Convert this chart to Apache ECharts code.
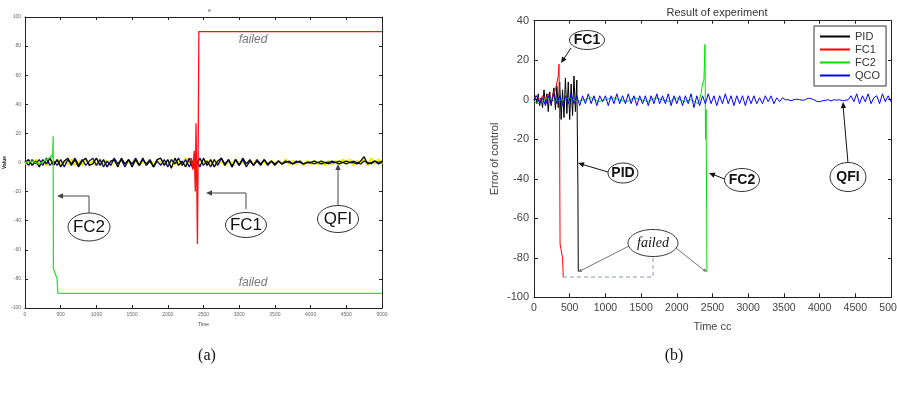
<!DOCTYPE html>
<html lang="en">
<head>
  <meta charset="UTF-8">
  <script src="https://cdn.jsdelivr.net/npm/echarts@6/dist/echarts.min.js"></script>
  <style>
    html, body { margin: 0; padding: 0; background: #fff; }
  </style>
</head>
<body>
  <div id="experimentChart" style="width: 897px; height: 397px;"></div>

  <script type="text/javascript">

    // ---- panel (a): noise traces sampled every 50 time units ----
    var stepA = 50;
    var blackA = [0, 2, -2, 1, -3, 2, -1, 3, -2, 2,
      -3, 1, 3, -2, 2, -3, 1, 3, -2, -1,
      3, -2, 2, -3, 1, 2, -3, 3, -1, 2,
      -3, 2, -2, 3, -2, 1, -3, 2, 3, -2,
      2, -4, 3, -2, 1, -3, 3, -4, 2, -3,
      3, -2, 2, -3, 1, 3, -2, 2, -3, 2,
      -2, 3, -1, 2, -2, 1, -2, 2, -1, 1,
      -2, 1, -1, 1, 0, -1, 1, 0, -1, 0,
      0, 1, 0, -1, 0, 0, 1, 0, -1, 0,
      1, 0, 0, -1, 1, 4, -1, 0, 1, -1, 0];
    var blueA = [1, -2, 2, -1, 2, -2, 3, -2, 1, -2,
      2, -3, 2, -1, 3, -2, 2, -2, 1, 3,
      -2, 2, -3, 1, -2, 3, -1, 2, -3, 2,
      -1, 3, -2, 2, -1, 2, -3, 1, -2, 2,
      -3, 2, -1, 3, -2, 2, -3, 1, -2, 3,
      -2, 1, -3, 2, -2, 3, -1, 2, -3, 2,
      -2, 2, -3, 1, -2, 2, -1, 2, -2, 1,
      -1, 1, -1, 0, 1, -1, 0, 1, -1, 0,
      0, -1, 0, 1, 0, -1, 0, 0, 1, 0,
      -1, 0, 1, 0, -1, 1, 0, -1, 1, 0, 1];
    var yellowA = [-1, 1, -2, 2, -1, 1, -2, 2, -1, 2,
      -2, 1, -1, 2, -2, 1, -2, 2, -1, 1,
      -2, 2, -1, 1, -2, 1, -1, 2, -2, 1,
      -1, 2, -2, 1, -1, 2, -2, 1, -1, 1,
      -2, 2, -1, 1, -2, 3, -2, 1, -1, 2,
      -1, 1, -2, 2, -1, 1, -2, 1, -1, 2,
      -1, 1, -2, 1, -1, 2, -1, 1, -2, 1,
      -1, 1, -1, 2, -1, 1, -1, 1, -2, 1,
      -1, 1, -1, 1, -2, 1, -1, 1, -1, 2,
      -1, 2, -2, 1, -1, 2, -2, 3, -1, 2, -1];
    var fc1TimeA = [2300, 2330, 2350, 2370, 2385, 2395, 2405, 2415, 2425, 2435, 5000];
    var fc1ValA = [0, 3, -5, 8, -20, 27, -10, -56, 5, 90, 90];
    var fc2TimeA = [0, 100, 200, 300, 340, 360, 375, 385, 395, 398, 450, 460, 5000];
    var fc2ValA = [0, 1, -1, 2, 3, 2, 5, 3, 18, -73, -80, -90, -90];
    var yTicksA = ['-100', '-80', '-60', '-40', '-20', '0', '20', '40', '60', '80', '100'];

    // ---- panel (b) ----
    var pidTime = [0, 20, 40, 60, 80, 100, 120, 140, 160, 180, 200, 220, 240, 260, 280, 300,
      320, 340, 360, 380, 400, 420, 440, 460, 480, 500, 520, 540, 560, 580, 600, 615, 620];
    var pidVal = [0, 2, -2, 3, -3, 1, -4, 5, -2, 3, -6, 4, -3, 2, 6, -5,
      7, -4, 9, -10, 5, -9, 11, -7, 9, -10, 8, -8, 12, -6, 10, -45, -87];
    var fc1Time = [0, 40, 80, 120, 160, 200, 240, 270, 300, 320, 340, 350, 358, 365, 400, 410];
    var fc1Val = [1, 2, -1, 2, 0, 3, -2, 3, 5, 4, 12, 18, -10, -73, -80, -90];
    var fc2Time = [0, 60, 120, 200, 300, 400, 500, 600, 700, 800, 900, 1000, 1100, 1200, 1300,
      1400, 1500, 1600, 1700, 1800, 1900, 2000, 2100, 2200, 2300,
      2340, 2360, 2380, 2395, 2402, 2410, 2418, 2422];
    var fc2Val = [-1, -2, 0, 1, -1, 0, 1, -1, 0, 1, -1, 0, 1, 0, -1,
      1, 0, -1, 1, 0, -1, 1, -1, 0, -2,
      3, 8, 10, 28, -20, -5, -55, -87];
    // QCO sampled every 40 time units
    var stepQco = 40;
    var qcoVal = [0, 2, -2, 1, -3, 2, -2, 3, -2, 2,
      -3, 2, -2, 3, -2, 2, -3, 2, -2, 3,
      -2, 2, -3, 2, -1, 2, -3, 2, -2, 3,
      -2, 2, -2, 3, -2, 2, -3, 2, -2, 2,
      -3, 2, -2, 3, -2, 2, -2, 3, -3, 2,
      -2, 2, -3, 2, -2, 3, -4, 2, -3, 2,
      -2, 3, -2, 2, -3, 2, -2, 3, -2, 2,
      -3, 2, -2, 2, -3, 2, -2, 2, -2, 1,
      -2, 2, -1, 2, -2, 1, -1, 1,
      0, 0, -0.5, 0, 0.3, 0, -0.3, 0, 0.8, 0.5, 0, -0.8,
      -1, -0.5, -0.3, 0, -0.6, 0, -0.2, 0, -0.5, -0.3, 0,
      2, -1, 3, -2, 2, -1, 3, -2, 1, 2, -2, 3, -1, 2, -1];
    var legendNames = ['PID', 'FC1', 'FC2', 'QCO'];

    function pairs(times, vals) {
      return vals.map((v, i) => [times[i], v]);
    }
    function stepped(step, vals) {
      return vals.map((v, i) => [i * step, v]);
    }

    var chart = echarts.init(document.getElementById('experimentChart'));

    function axisPair(grid, pos, min, max, interval, labels) {
      return {
        type: 'value', gridIndex: grid, position: pos, min: min, max: max, interval: interval,
        axisLine: { onZero: false, lineStyle: { color: '#222', width: 1 } },
        axisTick: { inside: true, length: 3, lineStyle: { color: '#222' } },
        splitLine: { show: false },
        axisLabel: labels || { show: false }
      };
    }

    var plain = v => String(v);
    var smallLabel = { fontSize: 5, color: '#666', fontFamily: 'Liberation Sans', margin: 4, formatter: plain };
    var mainLabel = { fontSize: 11, color: '#444', fontFamily: 'Liberation Sans', margin: 5, formatter: plain };

    var xA = axisPair(0, 'bottom', 0, 5000, 500, smallLabel);
    xA.name = 'Time'; xA.nameLocation = 'middle'; xA.nameGap = 14;
    xA.nameTextStyle = { fontSize: 5, color: '#444' };
    var yA = axisPair(0, 'left', -100, 100, 20, Object.assign({}, smallLabel, {
      formatter: v => yTicksA[(v + 100) / 20]
    }));
    yA.name = 'Value'; yA.nameLocation = 'middle'; yA.nameGap = 12;
    yA.nameTextStyle = { fontSize: 5, color: '#222', fontWeight: 'bold' };

    var xB = axisPair(1, 'bottom', 0, 5000, 500, Object.assign({}, mainLabel, { fontSize: 10.5 }));
    xB.name = 'Time cc'; xB.nameLocation = 'middle'; xB.nameGap = 24;
    xB.nameTextStyle = { fontSize: 11, color: '#444', fontFamily: 'Liberation Sans' };
    xB.axisTick.length = 4;
    var yB = axisPair(1, 'left', -100, 40, 20, mainLabel);
    yB.name = 'Error of control'; yB.nameLocation = 'middle'; yB.nameGap = 34;
    yB.nameTextStyle = { fontSize: 11, color: '#444', fontFamily: 'Liberation Sans' };
    yB.axisTick.length = 4;

    function line(name, data, color, width, xi, yi, z) {
      return {
        name: name, type: 'line', data: data, xAxisIndex: xi, yAxisIndex: yi,
        symbol: 'none', animation: false, silent: true, z: z,
        lineStyle: { color: color, width: width }, itemStyle: { color: color }
      };
    }

    var option = {
      animation: false,
      title: [
        { text: 'e', left: 203, top: 2, textStyle: { fontSize: 6, color: '#666', fontWeight: 'normal' } },
        { text: 'Result of experiment', left: 712, top: 2, textAlign: 'center',
          textStyle: { fontSize: 11, color: '#333', fontWeight: 'normal', fontFamily: 'Liberation Sans' } }
      ],
      legend: {
        data: legendNames, orient: 'vertical', left: 814, top: 26,
        padding: [5, 6, 5, 6], itemGap: 2, itemWidth: 30, itemHeight: 2, icon: 'rect',
        borderColor: '#333', borderWidth: 1, backgroundColor: '#fff',
        textStyle: { fontSize: 11, color: '#333', fontFamily: 'Liberation Sans' }
      },
      grid: [
        { left: 25, top: 17, width: 357, height: 291, outerBoundsMode: 'none' },
        { left: 534, top: 20.7, width: 357, height: 276.6, outerBoundsMode: 'none' }
      ],
      xAxis: [xA, axisPair(0, 'top', 0, 5000, 500), xB, axisPair(1, 'top', 0, 5000, 500)],
      yAxis: [yA, axisPair(0, 'right', -100, 100, 20), yB, axisPair(1, 'right', -100, 40, 20)],
      series: [
        line('a-yellow', stepped(stepA, yellowA), '#f2f200', 2.5, 0, 0, 2),
        line('a-blue', stepped(stepA, blueA), '#10108a', 1.3, 0, 0, 3),
        line('a-black', stepped(stepA, blackA), '#000', 1.3, 0, 0, 4),
        line('a-FC1', pairs(fc1TimeA, fc1ValA), '#ff1010', 1.3, 0, 0, 5),
        line('a-FC2', pairs(fc2TimeA, fc2ValA), '#33dd33', 1.3, 0, 0, 5),
        line('PID', pairs(pidTime, pidVal), '#000', 1, 2, 2, 3),
        line('FC1', pairs(fc1Time, fc1Val), '#ff0000', 1, 2, 2, 4),
        line('FC2', pairs(fc2Time, fc2Val), '#00e000', 1, 2, 2, 4),
        line('QCO', stepped(stepQco, qcoVal), '#0000ff', 1, 2, 2, 5)
      ]
    };
    chart.setOption(option);

    // ---- annotations ----
    function head(x1, y1, x2, y2, size, color) {
      var a = Math.atan2(y2 - y1, x2 - x1);
      var s = size, w = size * 0.45;
      var bx = x2 - s * Math.cos(a), by = y2 - s * Math.sin(a);
      return { type: 'polygon', z: 20, silent: true,
        shape: { points: [[x2, y2],
          [bx + w * Math.sin(a), by - w * Math.cos(a)],
          [bx - w * Math.sin(a), by + w * Math.cos(a)]] },
        style: { fill: color } };
    }
    function leader(points, color, dashed) {
      return { type: 'polyline', z: 20, silent: true, shape: { points: points },
        style: { stroke: color, lineWidth: 1, fill: null, lineDash: dashed ? [4, 3] : null } };
    }
    function bubble(cx, cy, rx, ry, text, font) {
      return [
        { type: 'ellipse', z: 21, silent: true, shape: { cx: cx, cy: cy, rx: rx, ry: ry },
          style: { fill: '#fff', stroke: '#333', lineWidth: 1 } },
        { type: 'text', z: 22, silent: true, x: cx, y: cy,
          style: Object.assign({ text: text, align: 'center', verticalAlign: 'middle', fill: '#111' }, font) }
      ];
    }
    var bigFont = { font: '17px "Liberation Sans"' };
    var midFont = { font: 'bold 14px "Liberation Sans"' };
    var g = [];
    // panel (a)
    g.push(leader([[89, 213], [89, 196], [60, 196]], '#444'), head(89, 196, 57, 196, 6, '#444'));
    g.push(leader([[246, 209], [246, 193], [209, 193]], '#444'), head(246, 193, 206, 193, 6, '#444'));
    g.push(leader([[338, 205], [338, 167]], '#444'), head(338, 205, 338, 164, 6, '#444'));
    g = g.concat(bubble(89, 227, 21, 14, 'FC2', bigFont));
    g = g.concat(bubble(246, 225, 20.5, 12.5, 'FC1', bigFont));
    g = g.concat(bubble(338, 219, 20.5, 13.5, 'QFI', bigFont));
    g.push({ type: 'text', z: 22, x: 253, y: 40, silent: true,
      style: { text: 'failed', align: 'center', verticalAlign: 'middle', fill: '#777', font: 'italic 12px "Liberation Sans"' } });
    g.push({ type: 'text', z: 22, x: 253, y: 283, silent: true,
      style: { text: 'failed', align: 'center', verticalAlign: 'middle', fill: '#777', font: 'italic 12px "Liberation Sans"' } });
    // panel (b)
    g.push(leader([[571, 48], [563, 60]], '#111'), head(571, 48, 561, 63, 6, '#111'));
    g.push(leader([[608, 172], [581, 164]], '#111'), head(608, 172, 578, 163, 6, '#111'));
    g.push(leader([[727, 180], [712, 174]], '#111'), head(727, 180, 709, 173, 6, '#111'));
    g.push(leader([[848, 163], [843, 105]], '#111'), head(848, 163, 843, 102, 6, '#111'));
    g.push(leader([[631, 245], [580, 271]], '#777'), head(631, 245, 578, 272, 4, '#777'));
    g.push(leader([[676, 248], [705, 271]], '#777'), head(676, 248, 707, 272, 4, '#777'));
    g.push(leader([[563, 277], [653, 277], [653, 257]], '#8a9ab0', true));
    g = g.concat(bubble(587, 40, 17.5, 9.5, 'FC1', midFont));
    g = g.concat(bubble(623, 173, 15, 10, 'PID', midFont));
    g = g.concat(bubble(742, 180, 17.5, 11.5, 'FC2', midFont));
    g = g.concat(bubble(848, 177, 18, 14.5, 'QFI', midFont));
    g = g.concat(bubble(653, 243, 25, 13.5, 'failed', { font: 'italic 14px "Liberation Serif"' }));
    // captions
    g.push({ type: 'text', x: 207, y: 356, silent: true,
      style: { text: '(a)', align: 'center', verticalAlign: 'middle', fill: '#111', font: '16px "Liberation Serif"' } });
    g.push({ type: 'text', x: 674, y: 356, silent: true,
      style: { text: '(b)', align: 'center', verticalAlign: 'middle', fill: '#111', font: '16px "Liberation Serif"' } });

    chart.setOption({ graphic: g });
  </script>
</body>
</html>
